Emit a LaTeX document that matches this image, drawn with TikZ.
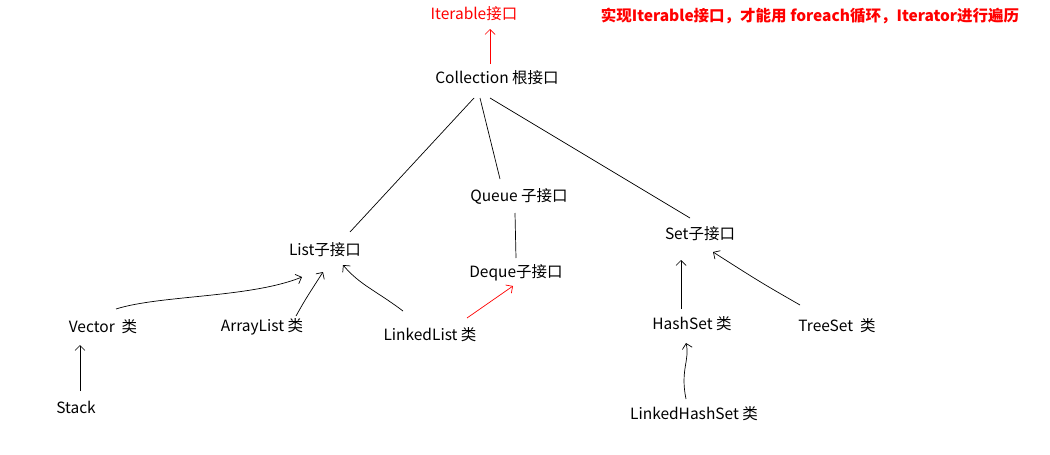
\documentclass[tikz,border=0pt]{standalone}
\usepackage{fontspec}
\setmainfont{Noto Sans CJK SC}
\usetikzlibrary{arrows.meta}
\begin{document}
\begin{tikzpicture}[x=1pt,y=-1pt,
  lbl/.style={font=\fontsize{15.5}{17}\selectfont, inner sep=1pt},
  ln/.style={draw=black, line width=0.7pt},
  arr/.style={ln, -{Straight Barb[length=5pt,width=10pt]}},
  rarr/.style={arr, draw=red}]
\useasboundingbox[fill=white] (0,0) rectangle (1050,455);
\node[lbl,text=red] (iter) at (474,14) {Iterable接口};
\node[lbl,text=red,font=\bfseries\fontsize{15.5}{17}\selectfont] (note) at (810,16) {实现Iterable接口，才能用 foreach循环，Iterator进行遍历};
\node[lbl] (coll) at (497,78) {Collection 根接口};
\node[lbl] (queue) at (519,196) {Queue 子接口};
\node[lbl] (list) at (325,250) {List子接口};
\node[lbl] (deque) at (516,273) {Deque子接口};
\node[lbl] (set) at (700,234) {Set子接口};
\node[lbl] (vector) at (103,327) {Vector \ 类};
\node[lbl] (alist) at (262,327) {ArrayList 类};
\node[lbl] (llist) at (430,335) {LinkedList 类};
\node[lbl] (hset) at (692,324) {HashSet 类};
\node[lbl] (tset) at (837,326) {TreeSet \ 类};
\node[lbl] (stack) at (76,407) {Stack};
\node[lbl] (lhset) at (694,414) {LinkedHashSet 类};
\coordinate (c1) at (490,64); \coordinate (c1e) at (490,29);
\coordinate (cl) at (474,98); \coordinate (lt) at (350,232);
\coordinate (cq) at (480,98); \coordinate (qt) at (500,179);
\coordinate (cs) at (490,98); \coordinate (st) at (690,218);
\coordinate (qb) at (515,213); \coordinate (dt) at (516,258);
\coordinate (v1) at (116,309); \coordinate (v2) at (302,277);
\coordinate (a1) at (296,316); \coordinate (a2) at (323,272);
\coordinate (l1) at (403,311); \coordinate (l2) at (343,265);
\coordinate (l3) at (467,318); \coordinate (d2) at (513,286);
\coordinate (h1) at (681,309); \coordinate (h2) at (681,260);
\coordinate (t1) at (800,305); \coordinate (t2) at (713,252);
\coordinate (s1) at (80,391); \coordinate (s2) at (80,345);
\coordinate (k1) at (686,399); \coordinate (k2) at (686,343);
\draw[rarr] (c1) -- (c1e);
\draw[ln] (cl) -- (lt);
\draw[ln] (cq) -- (qt);
\draw[ln] (cs) -- (st);
\draw[ln] (qb) -- (dt);
\draw[arr] (v1) .. controls (160,295) and (250,298) .. (v2);
\draw[arr] (a1) .. controls (305,300) .. (a2);
\draw[arr] (l1) .. controls (375,290) and (360,285) .. (l2);
\draw[rarr] (l3) -- (d2);
\draw[arr] (h1) -- (h2);
\draw[arr] (t1) .. controls (760,282) .. (t2);
\draw[arr] (s1) -- (s2);
\draw[arr] (k1) .. controls (680,370) and (690,360) .. (k2);
\end{tikzpicture}
\end{document}
